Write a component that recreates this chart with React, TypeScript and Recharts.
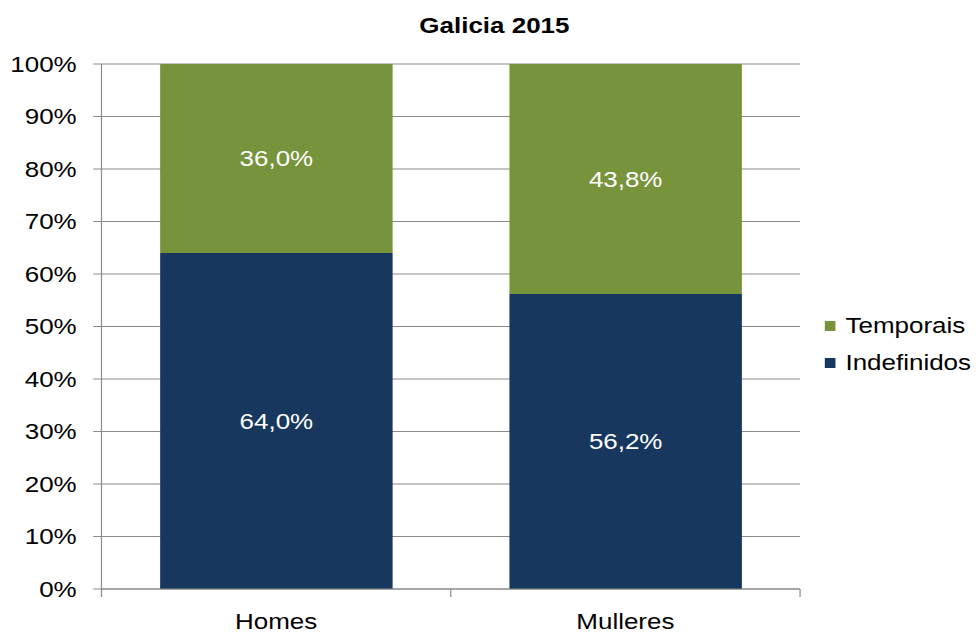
import { BarChart, Bar, XAxis, YAxis, CartesianGrid, LabelList } from 'recharts'

const categories = ['Homes', 'Mulleres']
const indefinidos = [64.0, 56.2]
const temporais = [36.0, 43.8]
const yTicks = [0, 10, 20, 30, 40, 50, 60, 70, 80, 90, 100]

const data = categories.map((name, i) => ({
  name,
  Indefinidos: indefinidos[i],
  Temporais: temporais[i],
}))

const FONT = '"Liberation Sans", Arial, sans-serif'
const GREEN = '#77933C'
const NAVY = '#17375E'
const GRID = '#8a8a8a'

// the reference is a bit wider than tall in its glyphs, so the whole chart is stretched
const STRETCH = 1.18
const W = 828
const H = 633

const fmtPct = (v: number) => `${v.toFixed(1).replace('.', ',')}%`

// ── tick with marks on category boundaries ─────────────────────────────────────
function CategoryTick(props: any) {
  const { x, y, payload, index, visibleTicksCount } = props
  const half = payload?.offset || 148
  return (
    <g>
      <line x1={x - half} x2={x - half} y1={y - 8} y2={y} stroke={GRID} />
      {index === visibleTicksCount - 1 && (
        <line x1={x + half} x2={x + half} y1={y - 8} y2={y} stroke={GRID} />
      )}
      <text x={x} y={y + 32} textAnchor="middle" fontSize={22} fill="#000" fontFamily={FONT}>
        {payload.value}
      </text>
    </g>
  )
}

function LegendBox() {
  const items = [
    { label: 'Temporais', color: GREEN },
    { label: 'Indefinidos', color: NAVY },
  ]
  return (
    <div style={{ position: 'absolute', left: 699, top: 307, fontFamily: FONT, fontSize: 22, color: '#000' }}>
      {items.map((it) => (
        <div key={it.label} style={{ display: 'flex', alignItems: 'center', height: 37 }}>
          <span style={{ width: 8.5, height: 10, background: it.color, marginRight: 9, display: 'inline-block' }} />
          <span>{it.label}</span>
        </div>
      ))}
    </div>
  )
}

export default function App() {
  return (
    <div style={{ position: 'absolute', left: 0, top: 0, width: 977, height: 633, overflow: 'hidden', background: '#fff' }}>
      <div style={{ position: 'relative', width: W, height: H, transform: `scaleX(${STRETCH})`, transformOrigin: '0 0' }}>
        <div
          style={{
            position: 'absolute',
            left: 0,
            width: 838,
            top: 13,
            textAlign: 'center',
            fontFamily: FONT,
            fontWeight: 'bold',
            fontSize: 22,
          }}
        >
          Galicia 2015
        </div>
        <BarChart
          width={W}
          height={H}
          data={data}
          margin={{ top: 64, right: 150, left: 0, bottom: 0 }}
          barCategoryGap="16.8%"
        >
          <CartesianGrid vertical={false} stroke={GRID} />
          <XAxis
            dataKey="name"
            height={44}
            axisLine={{ stroke: GRID }}
            tickLine={false}
            tick={<CategoryTick />}
            interval={0}
          />
          <YAxis
            width={86}
            domain={[0, 100]}
            ticks={yTicks}
            tickFormatter={(v: number) => `${v}%`}
            axisLine={{ stroke: GRID }}
            tickLine={{ stroke: GRID }}
            tickSize={7}
            tickMargin={14}
            tick={{ fontSize: 22, fill: '#000', fontFamily: FONT }}
          />
          <Bar dataKey="Indefinidos" stackId="a" fill={NAVY} isAnimationActive={false}>
            <LabelList
              dataKey="Indefinidos"
              position="center"
              formatter={(v: any) => fmtPct(Number(v))}
              fill="#fff"
              fontSize={22}
              fontFamily={FONT}
            />
          </Bar>
          <Bar dataKey="Temporais" stackId="a" fill={GREEN} isAnimationActive={false}>
            <LabelList
              dataKey="Temporais"
              position="center"
              formatter={(v: any) => fmtPct(Number(v))}
              fill="#fff"
              fontSize={22}
              fontFamily={FONT}
            />
          </Bar>
        </BarChart>
        <LegendBox />
      </div>
    </div>
  )
}
